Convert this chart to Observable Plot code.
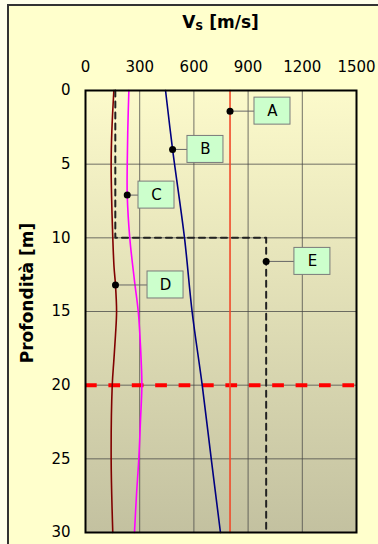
<!DOCTYPE html>
<html><head><meta charset="utf-8">
<script src="https://cdn.jsdelivr.net/npm/d3@7"></script>
<script src="https://cdn.jsdelivr.net/npm/@observablehq/plot@0.6"></script>
<style>
html,body{margin:0;padding:0;background:#FFFFEA;}
#wrap{position:relative;width:378px;height:544px;overflow:hidden;}
#panel{position:absolute;left:7px;top:4px;width:400px;height:600px;background:#FFFFCC;border:2px solid #333;}
#chart{position:absolute;left:0;top:0;}
#title{position:absolute;left:85px;width:271px;top:12px;text-align:center;font:bold 17px "DejaVu Sans";line-height:20px;}
#title sub{font-size:11px;vertical-align:-2px;line-height:0;}
#ylab{position:absolute;left:27px;top:293px;transform:translate(-50%,-50%) rotate(-90deg);white-space:nowrap;font:bold 17px "DejaVu Sans";}
</style></head>
<body>
<div id="wrap">
  <div id="panel"></div>
  <div id="chart"></div>
  <div id="title">V<sub>S</sub> [m/s]</div>
  <div id="ylab">Profondità [m]</div>
</div>
<script>
// Tick values
const xTicks = [0, 300, 600, 900, 1200, 1500];
const yTicks = [0, 5, 10, 15, 20, 25, 30];

// Profile A (constant)
const depthA = [0, 30];
const vsA = [800, 800];
// Profile B
const depthB = [0, 4, 10, 15, 20, 25, 30];
const vsB = [443, 482, 548, 590, 646, 696, 747];
// Profile C
const depthC = [0, 2.7, 5, 7.1, 10, 12.9, 15, 16.6, 18.3, 20, 22.5, 25, 27.5, 30];
const vsC = [240, 234, 231, 231, 245, 271, 292, 301, 308, 312, 304, 295, 282, 271];
// Profile D
const depthD = [0, 2.7, 5, 7.5, 10, 12, 13.2, 15, 16.6, 18.3, 20, 25, 30];
const vsD = [157, 146, 142, 145, 151, 158, 166, 172, 166, 157, 148, 142, 151];
// Profile E (two-layer step)
const depthE = [0, 10, 10, 30];
const vsE = [165, 165, 1000, 1000];
// Reference depth (red dashed)
const refDepth = [20];

// Labels
const labelNames = ["A", "B", "C", "D", "E"];
const labelVs = [800, 482, 231, 166, 1000];
const labelDepth = [1.4, 4.0, 7.1, 13.2, 11.6];
const labelBoxVs = [1035, 664, 393, 443, 1256];

const toPts = (ds, vs) => ds.map((d, i) => ({depth: d, vs: vs[i]}));
const A = toPts(depthA, vsA), B = toPts(depthB, vsB), C = toPts(depthC, vsC),
      D = toPts(depthD, vsD), E = toPts(depthE, vsE);
const labels = labelNames.map((n, i) => ({name: n, vs: labelVs[i], depth: labelDepth[i], lx: labelBoxVs[i]}));

const chart = Plot.plot({
  width: 378, height: 544,
  marginTop: 90, marginLeft: 85, marginRight: 22, marginBottom: 12,
  style: {fontFamily: "DejaVu Sans", fontSize: "15px", color: "black", background: "transparent"},
  x: {domain: [0, 1500]},
  y: {domain: [0, 30], reverse: true},
  marks: [
    Plot.frame({fill: "url(#bgGrad)", stroke: null}),
    Plot.gridX(xTicks, {stroke: "#444", strokeOpacity: 0.75, strokeWidth: 1}),
    Plot.gridY(yTicks, {stroke: "#444", strokeOpacity: 0.75, strokeWidth: 1}),
    Plot.ruleY(refDepth, {stroke: "#FF0000", strokeWidth: 4, strokeDasharray: "11.7,11.7"}),
    Plot.line(A, {x: "vs", y: "depth", stroke: "#F04A2A", strokeWidth: 1.6}),
    Plot.line(B, {x: "vs", y: "depth", stroke: "#000080", strokeWidth: 1.6, curve: "catmull-rom"}),
    Plot.line(C, {x: "vs", y: "depth", stroke: "#FF00FF", strokeWidth: 1.6, curve: "catmull-rom"}),
    Plot.line(D, {x: "vs", y: "depth", stroke: "#800000", strokeWidth: 1.6, curve: "catmull-rom"}),
    Plot.line(E, {x: "vs", y: "depth", stroke: "#222", strokeWidth: 2, strokeDasharray: "6,5"}),
    Plot.link(labels, {x1: "vs", x2: "lx", y1: "depth", y2: "depth", stroke: "#666", strokeWidth: 1}),
    Plot.rect(labels, {x1: "lx", x2: "lx", y1: "depth", y2: "depth",
      insetLeft: -18, insetRight: -18, insetTop: -13.5, insetBottom: -13.5,
      fill: "#CCFFCC", stroke: "#7a7a7a", strokeWidth: 1}),
    Plot.text(labels, {x: "lx", y: "depth", text: "name", fontSize: 15, fill: "black"}),
    Plot.dot(labels, {x: "vs", y: "depth", r: 3.5, fill: "black"}),
    Plot.frame({stroke: "black", strokeWidth: 2}),
    Plot.axisX({anchor: "top", ticks: xTicks, tickSize: 0, tickPadding: 19, tickFormat: d => String(d), label: null}),
    Plot.axisY({ticks: yTicks, tickSize: 0, tickPadding: 15, tickFormat: d => String(d), label: null})
  ]
});

d3.select(chart).insert("defs", ":first-child").html(
  '<linearGradient id="bgGrad" x1="0" y1="0" x2="0" y2="1">' +
  '<stop offset="0" stop-color="#FCFACB"/>' +
  '<stop offset="1" stop-color="#C3C1A0"/>' +
  '</linearGradient>');

document.getElementById("chart").appendChild(chart);
</script>
</body></html>
